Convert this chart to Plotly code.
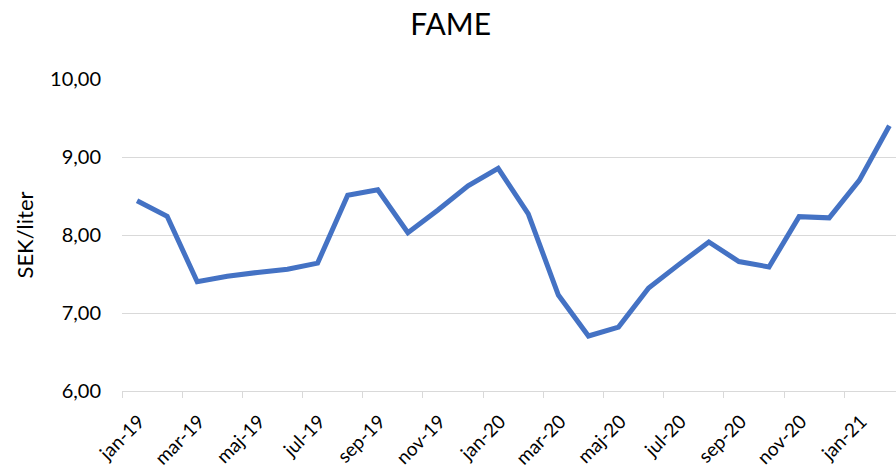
import plotly.graph_objects as go

months = ["jan-19", "feb-19", "mar-19", "apr-19", "maj-19", "jun-19", "jul-19", "aug-19",
          "sep-19", "okt-19", "nov-19", "dec-19", "jan-20", "feb-20", "mar-20", "apr-20",
          "maj-20", "jun-20", "jul-20", "aug-20", "sep-20", "okt-20", "nov-20", "dec-20",
          "jan-21", "feb-21"]
prices = [8.44, 8.24, 7.40, 7.47, 7.52, 7.56, 7.64, 8.51, 8.58, 8.03, 8.32, 8.63, 8.855,
          8.27, 7.23, 6.705, 6.82, 7.32, 7.62, 7.91, 7.66, 7.59, 8.235, 8.22, 8.70, 9.40]
tick_labels = months[::2]

x_idx = list(range(len(months)))
tick_pos = [i - 0.5 for i in x_idx[::2]]

fig = go.Figure()
fig.add_trace(go.Scatter(
    x=x_idx, y=prices, mode="lines",
    line=dict(color="#4472C4", width=5),
    hoverinfo="skip", showlegend=False,
))

font_family = "Lato, 'Open Sans', sans-serif"
fig.update_layout(
    width=896, height=470,
    margin=dict(l=122, r=0, t=79, b=79),
    paper_bgcolor="white", plot_bgcolor="white",
    separators=", ",
    font=dict(family=font_family, color="#000000", size=20),
    title=dict(text="FAME", x=0.503, xanchor="center", y=0.948, yanchor="middle",
               font=dict(size=30, color="#000000", family=font_family)),
)
fig.update_xaxes(
    range=[-0.5, 25.22], automargin=False,
    tickmode="array", tickvals=tick_pos, ticktext=tick_labels,
    tickangle=-45, tickfont=dict(size=19, color="#000000"),
    ticklabelshift=17, ticklabelstandoff=5,
    showgrid=False, zeroline=False,
    showline=True, linecolor="#D9D9D9", linewidth=1,
    ticks="outside", ticklen=6, tickcolor="#D9D9D9", tickwidth=1,
)
fig.update_yaxes(
    range=[6, 10], dtick=1, tick0=6, tickformat=".2f", automargin=False,
    tickfont=dict(size=20, color="#000000"),
    ticklabelstandoff=20,
    showgrid=True, gridcolor="#D9D9D9", gridwidth=1,
    zeroline=False, showline=False, ticks="",
    title=dict(text="SEK/liter", font=dict(size=22, color="#000000"), standoff=10),
)

fig.write_html("out.html", config={"displayModeBar": False},
               post_script="document.body.style.margin='0';")
